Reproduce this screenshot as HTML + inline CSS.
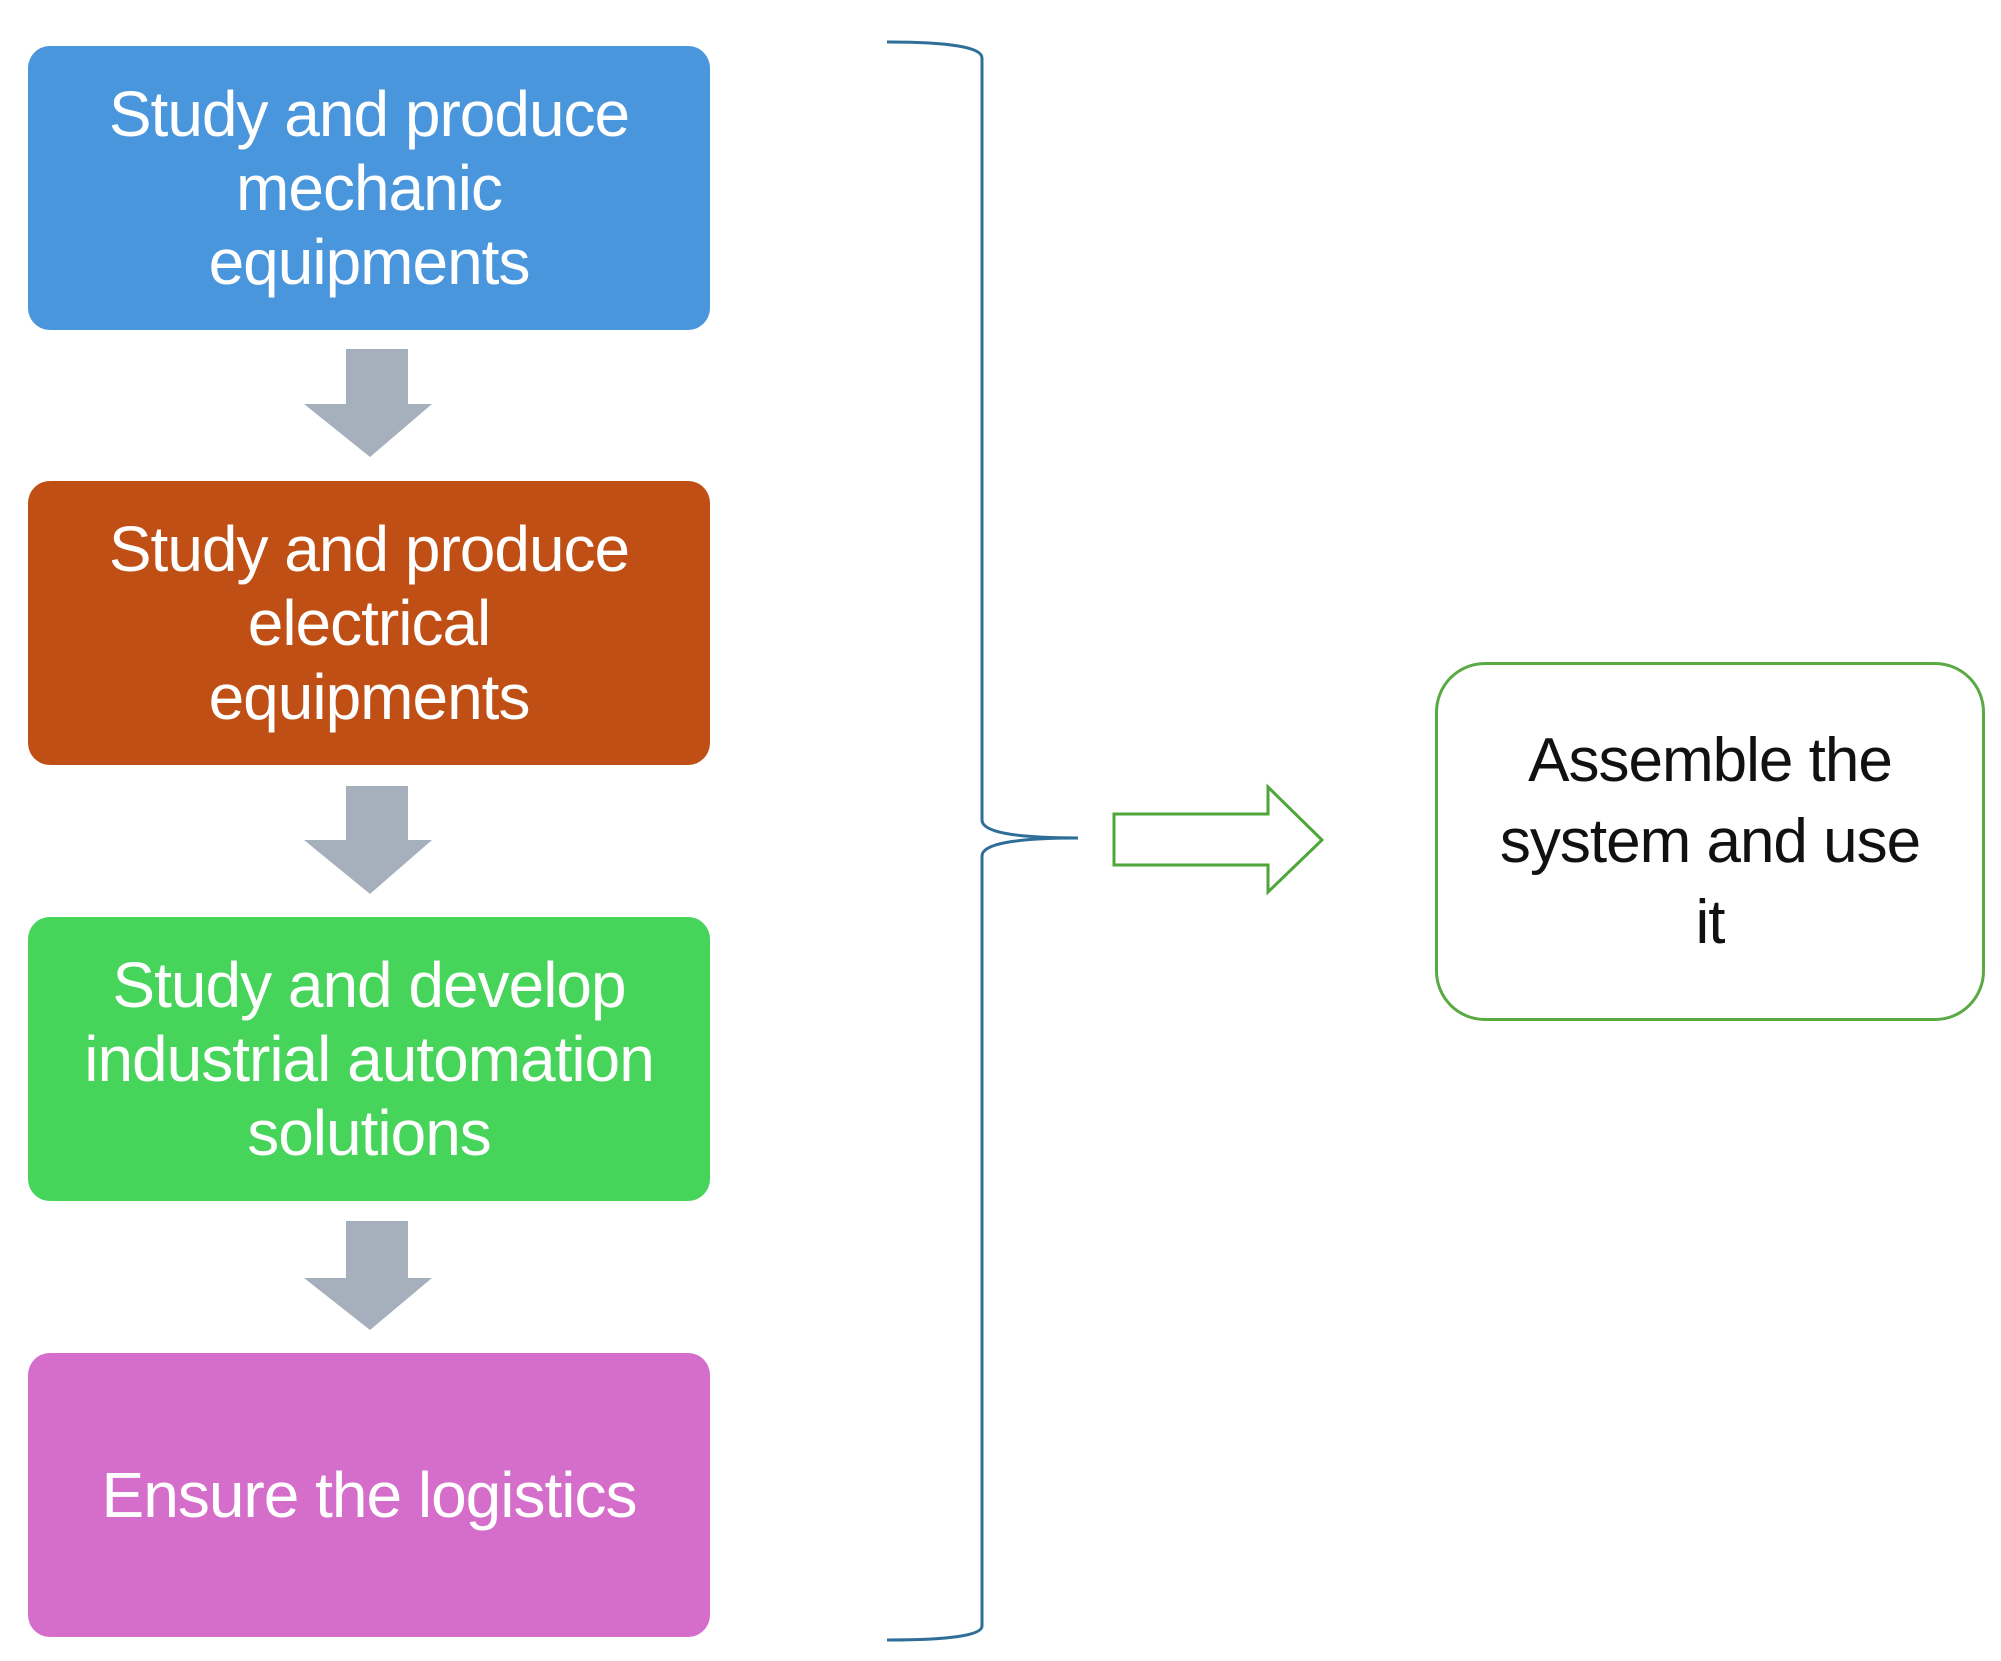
<!DOCTYPE html>
<html><head><style>
body{margin:0;width:2001px;height:1661px;background:#fff;position:relative;overflow:hidden;font-family:"Liberation Sans",sans-serif}
.b{position:absolute;left:28px;width:682px;height:284px;border-radius:22px;color:#fff;font-size:64px;line-height:74px;letter-spacing:-1px;display:flex;align-items:center;justify-content:center;text-align:center}
</style></head><body>
<div class="b" style="top:46px;background:#4a96dc">Study and produce<br>mechanic<br>equipments</div>
<div class="b" style="top:481px;background:#c04f15">Study and produce<br>electrical<br>equipments</div>
<div class="b" style="top:917px;background:#46d45a">Study and develop<br>industrial automation<br>solutions</div>
<div class="b" style="top:1353px;background:#d56ecb">Ensure the logistics</div>
<svg width="2001" height="1661" style="position:absolute;left:0;top:0">
<g fill="#a6b0bd">
<polygon points="346,349 408,349 408,404 432,404 370,457 304,404 346,404"/>
<polygon points="346,786 408,786 408,840 432,840 370,894 304,840 346,840"/>
<polygon points="346,1221 408,1221 408,1278 432,1278 370,1330 304,1278 346,1278"/>
</g>
<path d="M887,42 Q982,42 982,58 L982,820 Q982,838 1078,838 Q982,838 982,856 L982,1626 Q982,1640 887,1640" fill="none" stroke="#2e6e98" stroke-width="3"/>
<polygon points="1114,814 1268,814 1268,787 1322,840 1268,892 1268,865 1114,865" fill="#fff" stroke="#4ea63a" stroke-width="3"/>
</svg>
<div style="position:absolute;left:1435px;top:662px;width:544px;height:353px;border:3px solid #5aaa44;border-radius:50px;display:flex;align-items:center;justify-content:center;text-align:center;font-size:62px;line-height:81px;letter-spacing:-1px;color:#111">Assemble the<br>system and use<br>it</div>
</body></html>
